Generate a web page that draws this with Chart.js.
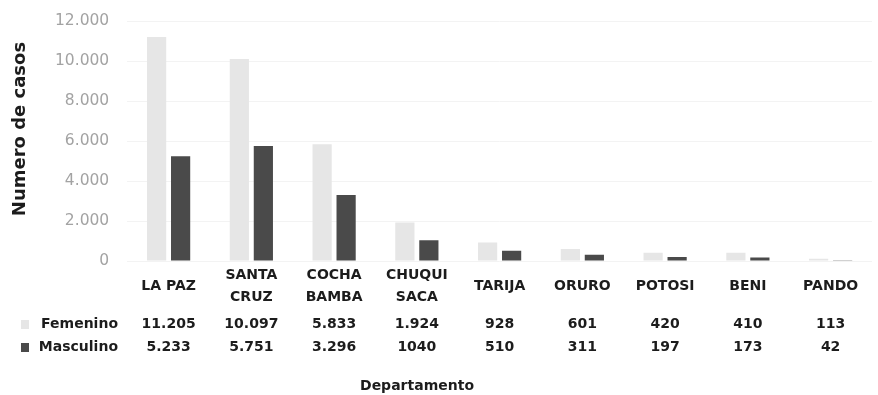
<!DOCTYPE html>
<html>
<head>
<meta charset="utf-8">
<script src="https://cdn.jsdelivr.net/npm/chart.js@4"></script>
<style>
  body { margin: 0; background: #fff; }
  #wrap { width: 878px; height: 395px; position: relative; }
</style>
</head>
<body>
<div id="wrap"><canvas id="bar-chart"></canvas></div>
<script>
// data
const departamentos = [["LA PAZ"], ["SANTA", "CRUZ"], ["COCHA", "BAMBA"], ["CHUQUI", "SACA"], ["TARIJA"], ["ORURO"], ["POTOSI"], ["BENI"], ["PANDO"]];
const femenino = [11205, 10097, 5833, 1924, 928, 601, 420, 410, 113];
const masculino = [5233, 5751, 3296, 1040, 510, 311, 197, 173, 42];
// texts of the data table, as printed
const femeninoText = ["11.205", "10.097", "5.833", "1.924", "928", "601", "420", "410", "113"];
const masculinoText = ["5.233", "5.751", "3.296", "1040", "510", "311", "197", "173", "42"];
const yTicks = [0, 2000, 4000, 6000, 8000, 10000, 12000];

const FONT = "'DejaVu Sans', sans-serif";
const colFem = "#e6e6e6";
const colMasc = "#4a4a4a";
const colText = "#1c1c1c";

// y title, data table and x title
const tablePlugin = {
    id: "dataTable",
    afterDraw(chart) {
        const ctx = chart.ctx;
        const x = chart.scales.x;
        const rows = [
            { name: "Femenino", text: femeninoText, y: 324, color: colFem },
            { name: "Masculino", text: masculinoText, y: 347, color: colMasc },
        ];
        ctx.save();
        ctx.fillStyle = colText;
        ctx.textBaseline = "middle";

        // y title
        ctx.save();
        ctx.translate(20, 129);
        ctx.rotate(-Math.PI / 2);
        ctx.textAlign = "center";
        ctx.font = "bold 18px " + FONT;
        ctx.fillText("Numero de casos", 0, 0);
        ctx.restore();

        ctx.font = "bold 14px " + FONT;
        rows.forEach((row) => {
            ctx.fillStyle = row.color;
            ctx.fillRect(21, row.y - 4, 8, 9);
            ctx.fillStyle = colText;
            ctx.textAlign = "right";
            ctx.fillText(row.name, 118, row.y);
            ctx.textAlign = "center";
            row.text.forEach((t, i) => {
                ctx.fillText(t, x.getPixelForValue(i), row.y);
            });
        });

        ctx.textAlign = "center";
        ctx.fillText("Departamento", 417, 386);
        ctx.restore();
    },
};

new Chart(document.getElementById("bar-chart"), {
    type: "bar",
    data: {
        labels: departamentos,
        datasets: [
            {
                label: "Femenino",
                data: femenino,
                backgroundColor: colFem,
                categoryPercentage: 0.58,
                barPercentage: 0.8,
            },
            {
                label: "Masculino",
                data: masculino,
                backgroundColor: colMasc,
                categoryPercentage: 0.58,
                barPercentage: 0.8,
            },
        ],
    },
    options: {
        responsive: true,
        maintainAspectRatio: false,
        animation: false,
        layout: { padding: { left: 37, right: 6, top: 21, bottom: 70 } },
        plugins: {
            legend: { display: false },
            tooltip: { enabled: false },
        },
        scales: {
            x: {
                grid: { display: false },
                border: { display: false },
                ticks: {
                    color: colText,
                    font: { family: FONT, size: 14, weight: "bold", lineHeight: 1.57 },
                    padding: 6,
                    crossAlign: "center",
                    maxRotation: 0,
                    autoSkip: false,
                },
            },
            y: {
                min: 0,
                max: 12000,
                afterBuildTicks: (axis) => {
                    axis.ticks = yTicks.map((v) => ({ value: v }));
                },
                afterFit: (axis) => {
                    axis.paddingTop = 0;
                    axis.paddingBottom = 0;
                },
                grid: { color: "#f3f3f3", drawTicks: false },
                border: { display: false },
                ticks: {
                    color: "#a3a3a3",
                    font: { family: FONT, size: 15.5 },
                    padding: 18,
                    callback: (v) => v.toLocaleString("de-DE"),
                },
            },
        },
    },
    plugins: [tablePlugin],
});
</script>
</body>
</html>
